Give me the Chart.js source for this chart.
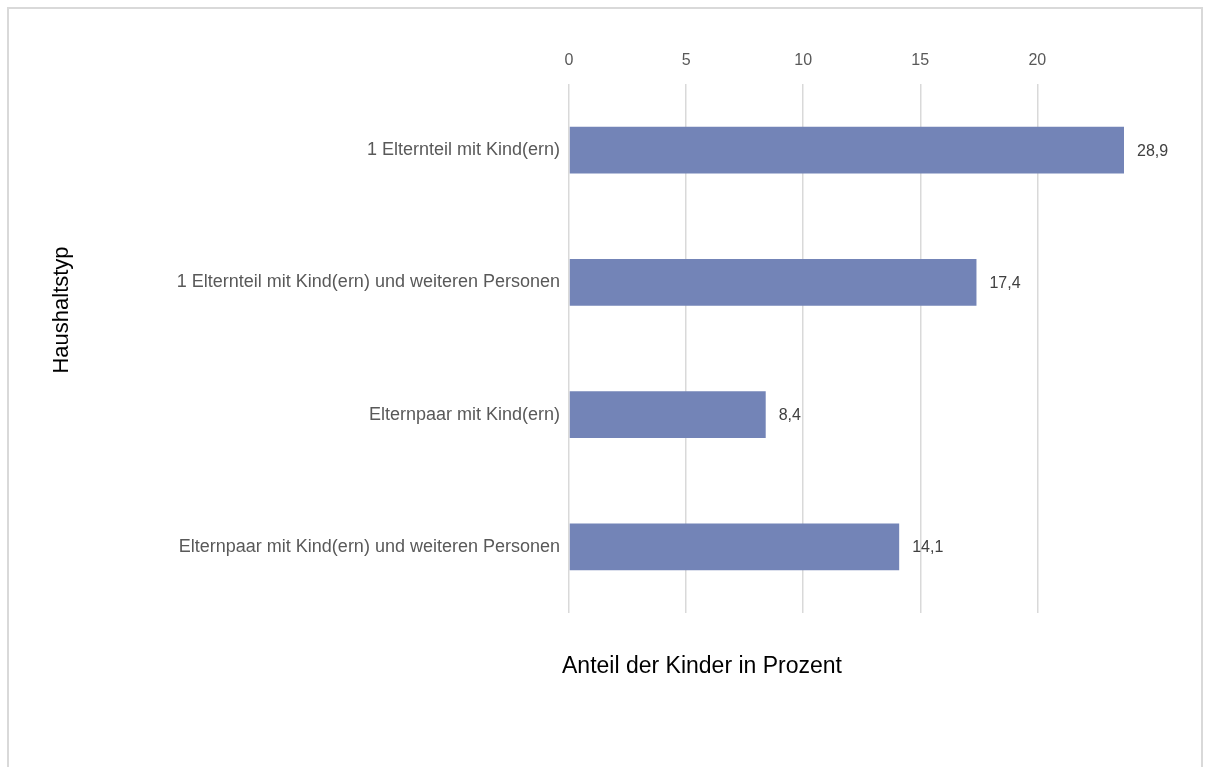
<!DOCTYPE html>
<html lang="de">
<head>
<meta charset="utf-8">
<script src="https://cdn.jsdelivr.net/npm/chart.js@4/dist/chart.umd.min.js"></script>
<style>
  html, body { margin: 0; padding: 0; background: #fff; }
  #frame {
    position: absolute; left: 7px; top: 7px; width: 1196px; height: 800px;
    border: 2px solid #d9d9d9; box-sizing: border-box;
  }
  #wrap { position: absolute; left: 0; top: 0; width: 1213px; height: 767px; }
</style>
</head>
<body>
<div id="frame"></div>
<div id="wrap"><canvas id="HaushaltChart" width="1213" height="767"></canvas></div>
<script>
var kategorien = [
    '1 Elternteil mit Kind(ern)',
    '1 Elternteil mit Kind(ern) und weiteren Personen',
    'Elternpaar mit Kind(ern)',
    'Elternpaar mit Kind(ern) und weiteren Personen'
];
var anteile = [28.9, 17.4, 8.4, 14.1]; // Anteil der Kinder in Prozent
var achseMax = 23.7;
var achseSchritt = 5;

var schrift = "'Liberation Sans', Arial, sans-serif";

// Werte rechts neben den Balken (Balken werden am Achsenende abgeschnitten)
var wertLabels = {
    id: 'wertLabels',
    afterDatasetsDraw: function (chart) {
        var ctx = chart.ctx;
        var meta = chart.getDatasetMeta(0);
        ctx.save();
        ctx.font = '16px ' + schrift;
        ctx.fillStyle = '#404040';
        ctx.textAlign = 'left';
        ctx.textBaseline = 'middle';
        meta.data.forEach(function (bar, i) {
            var x = Math.min(bar.x, chart.chartArea.right) + 13;
            ctx.fillText(anteile[i].toFixed(1).replace('.', ','), x, bar.y + 1);
        });
        ctx.restore();
    }
};

// Achsentitel
var achsenTitel = {
    id: 'achsenTitel',
    afterDraw: function (chart) {
        var ctx = chart.ctx;
        var area = chart.chartArea;
        ctx.save();
        ctx.fillStyle = '#000';
        ctx.font = '23px ' + schrift;
        ctx.textAlign = 'left';
        ctx.textBaseline = 'middle';
        ctx.fillText('Anteil der Kinder in Prozent', area.left - 7, area.bottom + 54);

        ctx.font = '22px ' + schrift;
        ctx.translate(62, 310);
        ctx.rotate(-Math.PI / 2);
        ctx.textAlign = 'center';
        ctx.fillText('Haushaltstyp', 0, 0);
        ctx.restore();
    }
};

var ctx = document.getElementById('HaushaltChart').getContext('2d');
var chart = new Chart(ctx, {
    type: 'bar',
    data: {
        labels: kategorien,
        datasets: [{
            data: anteile,
            backgroundColor: '#7384b7',
            borderWidth: 0,
            barPercentage: 0.71,
            categoryPercentage: 0.5
        }]
    },
    options: {
        indexAxis: 'y',
        responsive: false,
        animation: false,
        layout: { padding: { left: 0, right: 89, top: 0, bottom: 154 } },
        plugins: {
            legend: { display: false },
            tooltip: { enabled: false }
        },
        scales: {
            x: {
                position: 'top',
                min: 0,
                max: achseMax,
                afterFit: function (scale) { scale.height = 84; },
                ticks: {
                    stepSize: achseSchritt,
                    includeBounds: false,
                    padding: 14,
                    color: '#595959',
                    font: { family: schrift, size: 16 }
                },
                grid: { color: '#d9d9d9', lineWidth: 1.5, drawTicks: false },
                border: { display: false }
            },
            y: {
                afterFit: function (scale) { scale.width = 569; },
                ticks: {
                    padding: 9,
                    color: '#595959',
                    font: { family: schrift, size: 18 }
                },
                grid: { display: false, drawTicks: false },
                border: { display: false }
            }
        }
    },
    plugins: [wertLabels, achsenTitel]
});
</script>
</body>
</html>
